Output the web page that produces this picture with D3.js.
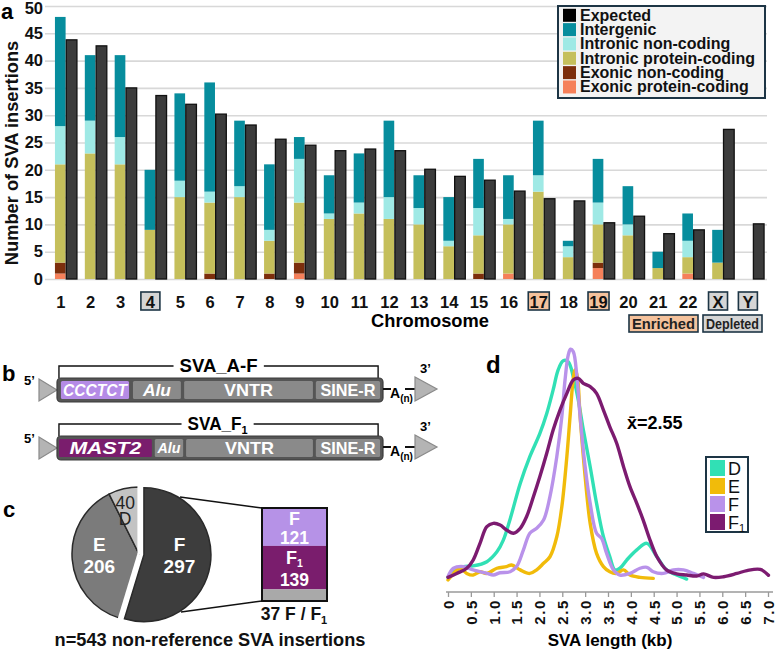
<!DOCTYPE html>
<html>
<head>
<meta charset="UTF-8">
<title>SVA insertions</title>
<script src="https://d3js.org/d3.v7.min.js"></script>
<style>
  body { margin: 0; background: #fff; }
  text { font-family: "Liberation Sans", Arial, sans-serif; }
</style>
</head>
<body>
<svg id="fig" width="778" height="651"></svg>
<script>
// ---------- data: panel a ----------
const chroms = ["1","2","3","4","5","6","7","8","9","10","11","12","13","14","15","16","17","18","19","20","21","22","X","Y"];
const exonicProtein     = [1,0,0,0,0,0,0,0,1,0,0,0,0,0,0,1,0,0,2,0,0,1,0,0];
const exonicNonCoding   = [2,0,0,0,0,1,0,1,2,0,0,0,0,0,1,0,0,0,1,0,0,0,0,0];
const intronicProtein   = [18,23,21,9,15,13,15,6,11,11,12,11,10,6,7,9,16,4,7,8,2,3,3,0];
const intronicNonCoding = [7,6,5,0,3,2,2,2,8,1,2,4,3,1,5,1,3,2,4,2,0,3,0,0];
const intergenic        = [20,12,15,11,16,20,12,12,4,7,9,14,6,8,9,8,10,1,8,7,3,5,6,0];
const expected          = [43.8,42.7,35,33.6,32,30.2,28.2,25.6,24.5,23.5,23.8,23.5,20.1,18.8,18.1,16.1,14.7,14.3,10.3,11.5,8.3,9,27.4,10.1];
const enriched = ["17","19"];
const depleted = ["4","X","Y"];
const yTicks = [0,5,10,15,20,25,30,35,40,45,50];
const legendLabels = ["Expected","Intergenic","Intronic non-coding","Intronic protein-coding","Exonic non-coding","Exonic protein-coding"];

// ---------- data: panel b (element spans, % of construct) ----------
const elemNamesA = ["CCCTCT","Alu","VNTR","SINE-R"];
const elemStartA = [1.2,23.3,39,79.4];
const elemEndA   = [22.1,38,78.5,99.1];
const elemNamesF1 = ["MAST2","Alu","VNTR","SINE-R"];
const elemStartF1 = [0.6,30,39.6,79.4];
const elemEndF1   = [29.1,38.7,78.5,99.1];

// ---------- data: panel c ----------
const subfamilies = ["F","E","D"];
const subfamilyCounts = [297,206,40];
const fGroups = ["F","F1","F / F1"];
const fCounts = [121,139,37];

// ---------- data: panel d (length kb, relative density) ----------
const lenD = [[0,0.011],[0.12,0.035],[0.34,0.057],[0.55,0.060],[0.85,0.078],[1.07,0.12],[1.21,0.17],[1.36,0.26],[1.58,0.411],[1.79,0.525],[2.01,0.624],[2.16,0.709],[2.30,0.809],[2.41,0.894],[2.52,0.933],[2.63,0.929],[2.74,0.865],[2.85,0.766],[2.96,0.639],[3.11,0.482],[3.25,0.326],[3.40,0.184],[3.54,0.099],[3.65,0.043],[3.76,0.050],[3.91,0.085],[4.13,0.128],[4.35,0.156],[4.57,0.099],[4.78,0.043],[5.00,0.021],[5.22,0.004]];
const lenE = [[0,0],[0.12,0.028],[0.26,0.050],[0.41,0.028],[0.55,0.021],[0.70,0.035],[0.85,0.028],[1.07,0.050],[1.28,0.057],[1.39,0.064],[1.58,0.043],[1.79,0.028],[1.94,0.043],[2.09,0.071],[2.23,0.099],[2.38,0.184],[2.49,0.312],[2.60,0.525],[2.67,0.695],[2.73,0.837],[2.78,0.894],[2.83,0.865],[2.89,0.695],[3.00,0.440],[3.11,0.241],[3.25,0.113],[3.40,0.057],[3.54,0.035],[3.69,0.028],[3.84,0.043],[3.98,0.021],[4.20,0.011],[4.49,0.007]];
const lenF = [[0,0.014],[0.12,0.050],[0.34,0.057],[0.55,0.043],[0.85,0.028],[0.99,0.021],[1.14,0.031],[1.36,0.035],[1.50,0.057],[1.65,0.128],[1.79,0.199],[1.94,0.220],[2.09,0.255],[2.23,0.355],[2.38,0.525],[2.49,0.695],[2.56,0.851],[2.63,0.957],[2.68,0.982],[2.74,0.972],[2.82,0.865],[2.89,0.695],[3.00,0.482],[3.11,0.326],[3.25,0.199],[3.36,0.177],[3.47,0.113],[3.62,0.043],[3.76,0.021],[3.98,0.028],[4.20,0.050],[4.35,0.054],[4.49,0.035],[4.71,0.028],[4.93,0.043],[5.15,0.043],[5.37,0.028],[5.59,0.011]];
const lenF1 = [[0,0.011],[0.19,0.028],[0.41,0.050],[0.55,0.085],[0.70,0.156],[0.85,0.227],[0.99,0.241],[1.14,0.234],[1.28,0.213],[1.43,0.199],[1.58,0.220],[1.72,0.270],[1.87,0.355],[2.01,0.440],[2.16,0.539],[2.30,0.638],[2.45,0.723],[2.60,0.794],[2.74,0.851],[2.85,0.858],[2.96,0.837],[3.11,0.823],[3.25,0.794],[3.40,0.723],[3.54,0.652],[3.69,0.582],[3.84,0.482],[3.98,0.397],[4.13,0.326],[4.27,0.255],[4.42,0.170],[4.57,0.099],[4.78,0.043],[5.00,0.026],[5.22,0.021],[5.44,0.017],[5.59,0.026],[5.81,0.011],[6.03,0.014],[6.32,0.028],[6.54,0.040],[6.83,0.045],[7.01,0.020]];
const lenTicks = [0,0.5,1,1.5,2,2.5,3,3.5,4,4.5,5,5.5,6,6.5,7];

const svg = d3.select("#fig");
const navy = "#1d3545";

// stretch a text to a measured width from the reference
function fit(sel, len) {
  return sel.attr("textLength", len).attr("lengthAdjust", "spacingAndGlyphs");
}

// =================== panel a ===================
const catKeys = ["exonicProtein","exonicNonCoding","intronicProtein","intronicNonCoding","intergenic"];
const catColors = {
  exonicProtein: "#f5805a", exonicNonCoding: "#7c2e0c", intronicProtein: "#c5bf5b",
  intronicNonCoding: "#9fe9e5", intergenic: "#078d9d"
};
const table = chroms.map((c, i) => ({
  chrom: c, exonicProtein: exonicProtein[i], exonicNonCoding: exonicNonCoding[i],
  intronicProtein: intronicProtein[i], intronicNonCoding: intronicNonCoding[i],
  intergenic: intergenic[i], expected: expected[i]
}));

const xA = d3.scaleBand(chroms, [51, 768]).paddingInner(0.264).paddingOuter(0.132);
const xSub = d3.scaleBand(["obs","exp"], [0, xA.bandwidth()]).paddingInner(0.06);
const yA = d3.scaleLinear([0, 50], [279, 6]);

const gA = svg.append("g");

// gridlines
gA.append("g")
  .attr("transform", "translate(45,0)")
  .call(d3.axisLeft(yA).tickValues(yTicks).tickSize(-722).tickFormat(""))
  .call(g => g.select(".domain").remove())
  .selectAll("line").attr("stroke", "#d8d8d8").attr("stroke-width", 1.6);

// y tick labels
const yAx = gA.append("g")
  .attr("transform", "translate(43,0)")
  .call(d3.axisLeft(yA).tickValues(yTicks).tickSize(0).tickPadding(0));
yAx.select(".domain").remove();
yAx.attr("font-family", null).attr("font-size", null);
yAx.selectAll("text").attr("font-size", 16.5).attr("font-weight", "bold").attr("fill", "#111")
  .attr("dy", d => d === 50 ? "0.45em" : "0.32em");

gA.append("text")
  .attr("transform", "translate(18,153) rotate(-90)")
  .attr("text-anchor", "middle")
  .attr("font-size", 18.3).attr("font-weight", "bold").attr("fill", "#111")
  .text("Number of SVA insertions");

gA.append("text").attr("x", 1).attr("y", 19)
  .attr("font-size", 22).attr("font-weight", "bold").text("a");

// stacked observed bars
const stacked = d3.stack().keys(catKeys)(table);
gA.selectAll("g.layer").data(stacked).join("g")
  .attr("class", "layer")
  .attr("fill", d => catColors[d.key])
  .selectAll("rect").data(d => d).join("rect")
  .attr("x", d => xA(d.data.chrom) + xSub("obs"))
  .attr("width", xSub.bandwidth())
  .attr("y", d => yA(d[1]))
  .attr("height", d => yA(d[0]) - yA(d[1]));

// expected bars
gA.selectAll("rect.exp").data(table).join("rect")
  .attr("class", "exp")
  .attr("x", d => xA(d.chrom) + xSub("exp"))
  .attr("width", xSub.bandwidth())
  .attr("y", d => yA(d.expected))
  .attr("height", d => yA(0) - yA(d.expected))
  .attr("fill", "#3c3c3c").attr("stroke", "#111").attr("stroke-width", 1.3);

// x labels, with boxes for enriched / depleted chromosomes
const labelX = c => xA(c) + xSub("obs") + xSub.bandwidth() / 2 + 0.5;
const boxed = chroms.filter(c => enriched.includes(c) || depleted.includes(c));
gA.selectAll("rect.chrbox").data(boxed).join("rect")
  .attr("class", "chrbox")
  .attr("x", c => labelX(c) - (c.length > 1 ? 10.5 : 9.5))
  .attr("width", c => c.length > 1 ? 21 : 19)
  .attr("y", 292).attr("height", 18)
  .attr("fill", c => enriched.includes(c) ? "#f5c29c" : "#d5d5d5")
  .attr("stroke", navy).attr("stroke-width", 1.6);
gA.selectAll("text.chr").data(chroms).join("text")
  .attr("class", "chr")
  .attr("x", labelX).attr("y", 308)
  .attr("text-anchor", "middle")
  .attr("font-size", 16.5).attr("font-weight", "bold").attr("fill", "#111")
  .text(c => c);

gA.append("text").attr("x", 430).attr("y", 327)
  .attr("text-anchor", "middle").attr("font-size", 18.3).attr("font-weight", "bold")
  .text("Chromosome");

// enriched / depleted key
[["Enriched", 629, 69, "#f5c29c"], ["Depleted", 703, 59, "#d5d5d5"]].forEach(([t, x, w, f]) => {
  gA.append("rect").attr("x", x).attr("y", 315).attr("width", w).attr("height", 17)
    .attr("fill", f).attr("stroke", navy).attr("stroke-width", 1.6);
  fit(gA.append("text").attr("x", x + 3).attr("y", 329)
    .attr("font-size", 14.5).attr("font-weight", "bold").attr("fill", "#222").text(t), w - 6);
});

// legend
const legColors = ["#000000", catColors.intergenic, catColors.intronicNonCoding,
  catColors.intronicProtein, catColors.exonicNonCoding, catColors.exonicProtein];
const legY = d3.scaleBand(legendLabels, [8, 94]);
const leg = gA.append("g");
leg.append("rect").attr("x", 558).attr("y", 6).attr("width", 207).attr("height", 92)
  .attr("fill", "#f3f3f3").attr("stroke", navy).attr("stroke-width", 2);
leg.selectAll("rect.sw").data(legendLabels).join("rect")
  .attr("class", "sw")
  .attr("x", 563).attr("y", d => legY(d) + 0.8).attr("width", 13).attr("height", 13)
  .attr("fill", (d, i) => legColors[i]);
leg.selectAll("text").data(legendLabels).join("text")
  .attr("x", 580).attr("y", d => legY(d) + 12.6)
  .attr("font-size", 16).attr("font-weight", "bold").attr("fill", "#111")
  .text(d => d);

// =================== panel b ===================
const xB = d3.scaleLinear([0, 100], [57, 383]);
svg.append("text").attr("x", 2).attr("y", 381)
  .attr("font-size", 22).attr("font-weight", "bold").text("b");

// widths of element labels as seen in the reference
const elemTextLen = { CCCTCT: 64, Alu: 28, VNTR: 49, "SINE-R": 55, MAST2: 72 };

function construct(y0, names, starts, ends, label, sub, labLen) {
  const g = svg.append("g");
  // bracket
  const bl = xB(0.6), br = xB(98.5), by = y0 - 12;
  const lab = g.append("text").attr("x", (bl + br) / 2 - labLen / 2).attr("y", by + 6)
    .attr("font-size", 17.5).attr("font-weight", "bold");
  const main = lab.append("tspan").text(label);
  if (sub) lab.append("tspan").attr("font-size", 11).attr("dy", 4).text(sub);
  fit(main, sub ? labLen - 8 : labLen);
  const bb = lab.node().getBBox();
  g.append("path").attr("fill", "none").attr("stroke", "#111").attr("stroke-width", 1.4)
    .attr("d", `M${bl},${y0} V${by} H${bb.x - 6} M${bb.x + bb.width + 6},${by} H${br} V${y0}`);
  // 5' triangle
  g.append("polygon").attr("points", `39,${y0 + 1} 57,${y0 + 12} 39,${y0 + 23}`)
    .attr("fill", "#b4b4b4").attr("stroke", "#8a8a8a").attr("stroke-width", 1.2);
  g.append("text").attr("x", 24).attr("y", y0 + 7).attr("font-size", 13)
    .attr("font-weight", "bold").text("5\u2019");
  // body
  g.append("rect").attr("x", xB(0)).attr("y", y0).attr("width", xB(100) - xB(0)).attr("height", 24)
    .attr("rx", 4).attr("fill", "#555").attr("stroke", "#3d3d3d").attr("stroke-width", 1.2);
  names.forEach((n, i) => {
    const fill = n === "CCCTCT" ? "#b58be6" : n === "MAST2" ? "#7a1d6d" : "#8a8a8a";
    const x0 = xB(starts[i]), x1 = xB(ends[i]);
    g.append("rect").attr("x", x0).attr("y", y0 + 3)
      .attr("width", x1 - x0).attr("height", 18).attr("rx", 1.5)
      .attr("fill", fill);
    const ital = n === "CCCTCT" || n === "Alu" || n === "MAST2";
    const small = n === "Alu" && names[0] === "MAST2";
    const len = small ? 23 : elemTextLen[n];
    fit(g.append("text").attr("x", (x0 + x1) / 2 - len / 2).attr("y", y0 + 12)
      .attr("dy", "0.36em")
      .attr("font-size", small ? 14 : 16.5).attr("font-weight", "bold")
      .attr("font-style", ital ? "italic" : "normal").attr("fill", "#fff").text(n), len);
  });
  // A(n) tail and 3' triangle
  g.append("line").attr("x1", xB(100)).attr("x2", 391).attr("y1", y0 + 11).attr("y2", y0 + 11)
    .attr("stroke", "#111").attr("stroke-width", 2);
  g.append("line").attr("x1", 405).attr("x2", 416).attr("y1", y0 + 11).attr("y2", y0 + 11)
    .attr("stroke", "#111").attr("stroke-width", 2);
  const an = g.append("text").attr("x", 390).attr("y", y0 + 20).attr("font-size", 14).attr("font-weight", "bold");
  an.append("tspan").text("A");
  an.append("tspan").attr("font-size", 10).attr("dy", 4).text("(n)");
  g.append("polygon").attr("points", `415,${y0 - 1} 437,${y0 + 11} 415,${y0 + 23}`)
    .attr("fill", "#b4b4b4").attr("stroke", "#8a8a8a").attr("stroke-width", 1.2);
  g.append("text").attr("x", 420).attr("y", y0 - 5).attr("font-size", 13)
    .attr("font-weight", "bold").text("3\u2019");
}
construct(378, elemNamesA, elemStartA, elemEndA, "SVA_A-F", null, 78);
construct(436, elemNamesF1, elemStartF1, elemEndF1, "SVA_F", "1", 62);

// =================== panel c ===================
svg.append("text").attr("x", 3).attr("y", 517)
  .attr("font-size", 22).attr("font-weight", "bold").text("c");

const pieColors = { F: "#3d3d3d", E: "#7b7b7b", D: "#c3c3c3" };
const pieData = d3.pie().sort(null)(subfamilyCounts);
const rPie = 67, cx = 139, cy = 554;
const arc = d3.arc().innerRadius(0).outerRadius(rPie);
const explode = d => {
  const m = (d.startAngle + d.endAngle) / 2;
  return `translate(${5 * Math.sin(m)},${-5 * Math.cos(m)})`;
};
const gC = svg.append("g").attr("transform", `translate(${cx},${cy})`);
gC.selectAll("path.sl").data(pieData.slice(1)).join("path")
  .attr("class", "sl")
  .attr("d", arc)
  .attr("fill", (d, i) => pieColors[subfamilies[i + 1]])
  .attr("stroke", "#2a2a2a").attr("stroke-width", 1.5);
// white separators between F and the rest
gC.selectAll("line.sep").data([pieData[0].startAngle, pieData[0].endAngle]).join("line")
  .attr("class", "sep")
  .attr("x1", 0).attr("y1", 0)
  .attr("x2", a => (rPie + 3) * Math.sin(a)).attr("y2", a => -(rPie + 3) * Math.cos(a))
  .attr("stroke", "#fff").attr("stroke-width", 3.2);
gC.selectAll("path.fx").data([pieData[0]]).join("path")
  .attr("class", "fx")
  .attr("d", arc)
  .attr("transform", explode)
  .attr("fill", pieColors.F).attr("stroke", "#2a2a2a").attr("stroke-width", 1.5);

// slice labels: x from the slice centroid, two stacked lines
const labelArc = d3.arc().innerRadius(0).outerRadius(rPie * 1.1);
const dArc = d3.arc().innerRadius(rPie * 0.64).outerRadius(rPie * 0.64);
pieData.forEach((d, i) => {
  const name = subfamilies[i];
  const isD = name === "D";
  const [lx, ly] = isD ? dArc.centroid(d) : labelArc.centroid(d);
  const t = gC.append("text").attr("text-anchor", "middle")
    .attr("font-size", isD ? 17.5 : 19).attr("font-weight", isD ? "normal" : "bold")
    .attr("fill", isD ? "#222" : "#fff");
  const lines = isD ? [String(subfamilyCounts[i]), name] : [name, String(subfamilyCounts[i])];
  const base = isD ? [ly - 3, ly + 13] : [-3, 19];
  lines.forEach((s, k) => t.append("tspan").attr("x", isD ? lx - 4 : lx + (name === "F" ? 4 : -3))
    .attr("y", base[k]).text(s));
});

// F breakdown box
const yBox = d3.scaleLinear([0, d3.sum(fCounts)], [508, 601]);
const boxColors = ["#b692e7", "#7a1d6d", "#a9a9a9"];
let acc = 0;
const boxSegs = fCounts.map((v, i) => { const s = { name: fGroups[i], v, y0: acc, y1: acc + v, color: boxColors[i] }; acc += v; return s; });
const gBox = svg.append("g");
gBox.append("line").attr("x1", 180).attr("y1", 497).attr("x2", 262).attr("y2", yBox(0))
  .attr("stroke", "#111").attr("stroke-width", 1.5);
gBox.append("line").attr("x1", 181).attr("y1", 612).attr("x2", 262).attr("y2", yBox(acc))
  .attr("stroke", "#111").attr("stroke-width", 1.5);
gBox.selectAll("rect.seg").data(boxSegs).join("rect")
  .attr("class", "seg")
  .attr("x", 262).attr("width", 65)
  .attr("y", d => yBox(d.y0)).attr("height", d => yBox(d.y1) - yBox(d.y0))
  .attr("fill", d => d.color);
gBox.append("rect").attr("x", 262).attr("y", yBox(0)).attr("width", 65)
  .attr("height", yBox(acc) - yBox(0)).attr("fill", "none").attr("stroke", "#111").attr("stroke-width", 2);
boxSegs.slice(0, 2).forEach(d => {
  const mid = (yBox(d.y0) + yBox(d.y1)) / 2;
  const sub = d.name === "F1";
  const t1 = gBox.append("text").attr("x", 294.5).attr("y", mid - (sub ? 4 : 2)).attr("text-anchor", "middle")
    .attr("font-size", 18).attr("font-weight", "bold").attr("fill", "#fff");
  t1.append("tspan").text("F");
  if (sub) t1.append("tspan").attr("font-size", 10.5).attr("dy", 3).text("1");
  gBox.append("text").attr("x", 294.5).attr("y", mid + (sub ? 18 : 17)).attr("text-anchor", "middle")
    .attr("font-size", 17.5).attr("font-weight", "bold").attr("fill", "#fff").text(d.v);
});
const lab37 = gBox.append("text").attr("x", 294).attr("y", 620).attr("text-anchor", "middle")
  .attr("font-size", 17.5).attr("font-weight", "bold").attr("fill", "#111");
lab37.append("tspan").text(`${fCounts[2]} F / F`);
lab37.append("tspan").attr("font-size", 11).attr("dy", 4).text("1");

svg.append("text").attr("x", 210).attr("y", 646).attr("text-anchor", "middle")
  .attr("font-size", 18.2).attr("font-weight", "bold").attr("fill", "#111")
  .text(`n=${d3.sum(subfamilyCounts)} non-reference SVA insertions`);

// =================== panel d ===================
const xD = d3.scaleLinear([0, 7], [448, 768]);
const yD = d3.scaleLinear([0, 1], [580, 345]);
svg.append("text").attr("x", 486).attr("y", 373)
  .attr("font-size", 24).attr("font-weight", "bold").text("d");

const xAxD = svg.append("g").attr("transform", "translate(0,592)")
  .call(d3.axisBottom(xD).tickValues(lenTicks).tickSize(5)
    .tickFormat(d => d === 0 ? "0" : d3.format(".1f")(d)));
xAxD.attr("font-family", null).attr("font-size", null);
xAxD.select(".domain").attr("stroke", "#9a9a9a").attr("stroke-width", 1.5)
  .attr("d", "M446,0H773");
xAxD.selectAll("line").attr("stroke", "#9a9a9a").attr("stroke-width", 1.3);
xAxD.selectAll("text")
  .attr("transform", "rotate(-90)")
  .attr("x", -7).attr("y", 0).attr("dy", "0.36em")
  .attr("text-anchor", "end")
  .attr("letter-spacing", 1.6)
  .attr("font-size", 15).attr("font-weight", "bold").attr("fill", "#111");

svg.append("text").attr("x", 610).attr("y", 646).attr("text-anchor", "middle")
  .attr("font-size", 17).attr("font-weight", "bold").text("SVA length (kb)");

const series = [
  { name: "D", color: "#31e0b5", pts: lenD },
  { name: "E", color: "#f1bb0a", pts: lenE },
  { name: "F", color: "#b992ea", pts: lenF },
  { name: "F1", color: "#7c1b70", pts: lenF1 }
];
const lineD = d3.line().x(d => xD(d[0])).y(d => yD(d[1])).curve(d3.curveCatmullRom.alpha(0.5));
svg.append("g").selectAll("path").data(series).join("path")
  .attr("d", d => lineD(d.pts))
  .attr("fill", "none").attr("stroke", d => d.color)
  .attr("stroke-width", 3.4).attr("stroke-linejoin", "round").attr("stroke-linecap", "round");

svg.append("text").attr("x", 627).attr("y", 429)
  .attr("font-size", 18).attr("font-weight", "bold").text("x\u0304=2.55");

// legend d
const legD = svg.append("g");
const legDY = d3.scaleBand(series.map(s => s.name), [459, 531]);
legD.append("rect").attr("x", 706).attr("y", 457).attr("width", 42).attr("height", 75)
  .attr("fill", "#fff").attr("stroke", navy).attr("stroke-width", 2);
legD.selectAll("rect.sw").data(series).join("rect")
  .attr("class", "sw")
  .attr("x", 710).attr("y", d => legDY(d.name) + 1).attr("width", 15).attr("height", 16)
  .attr("fill", d => d.color);
legD.selectAll("text").data(series).join("text")
  .attr("x", 728).attr("y", d => legDY(d.name) + 15.5)
  .attr("font-size", 18).attr("fill", "#111")
  .each(function (d) {
    const t = d3.select(this);
    t.append("tspan").text(d.name[0]);
    if (d.name.length > 1) t.append("tspan").attr("font-size", 11).attr("dy", 3).text(d.name.slice(1));
  });
</script>
</body>
</html>
